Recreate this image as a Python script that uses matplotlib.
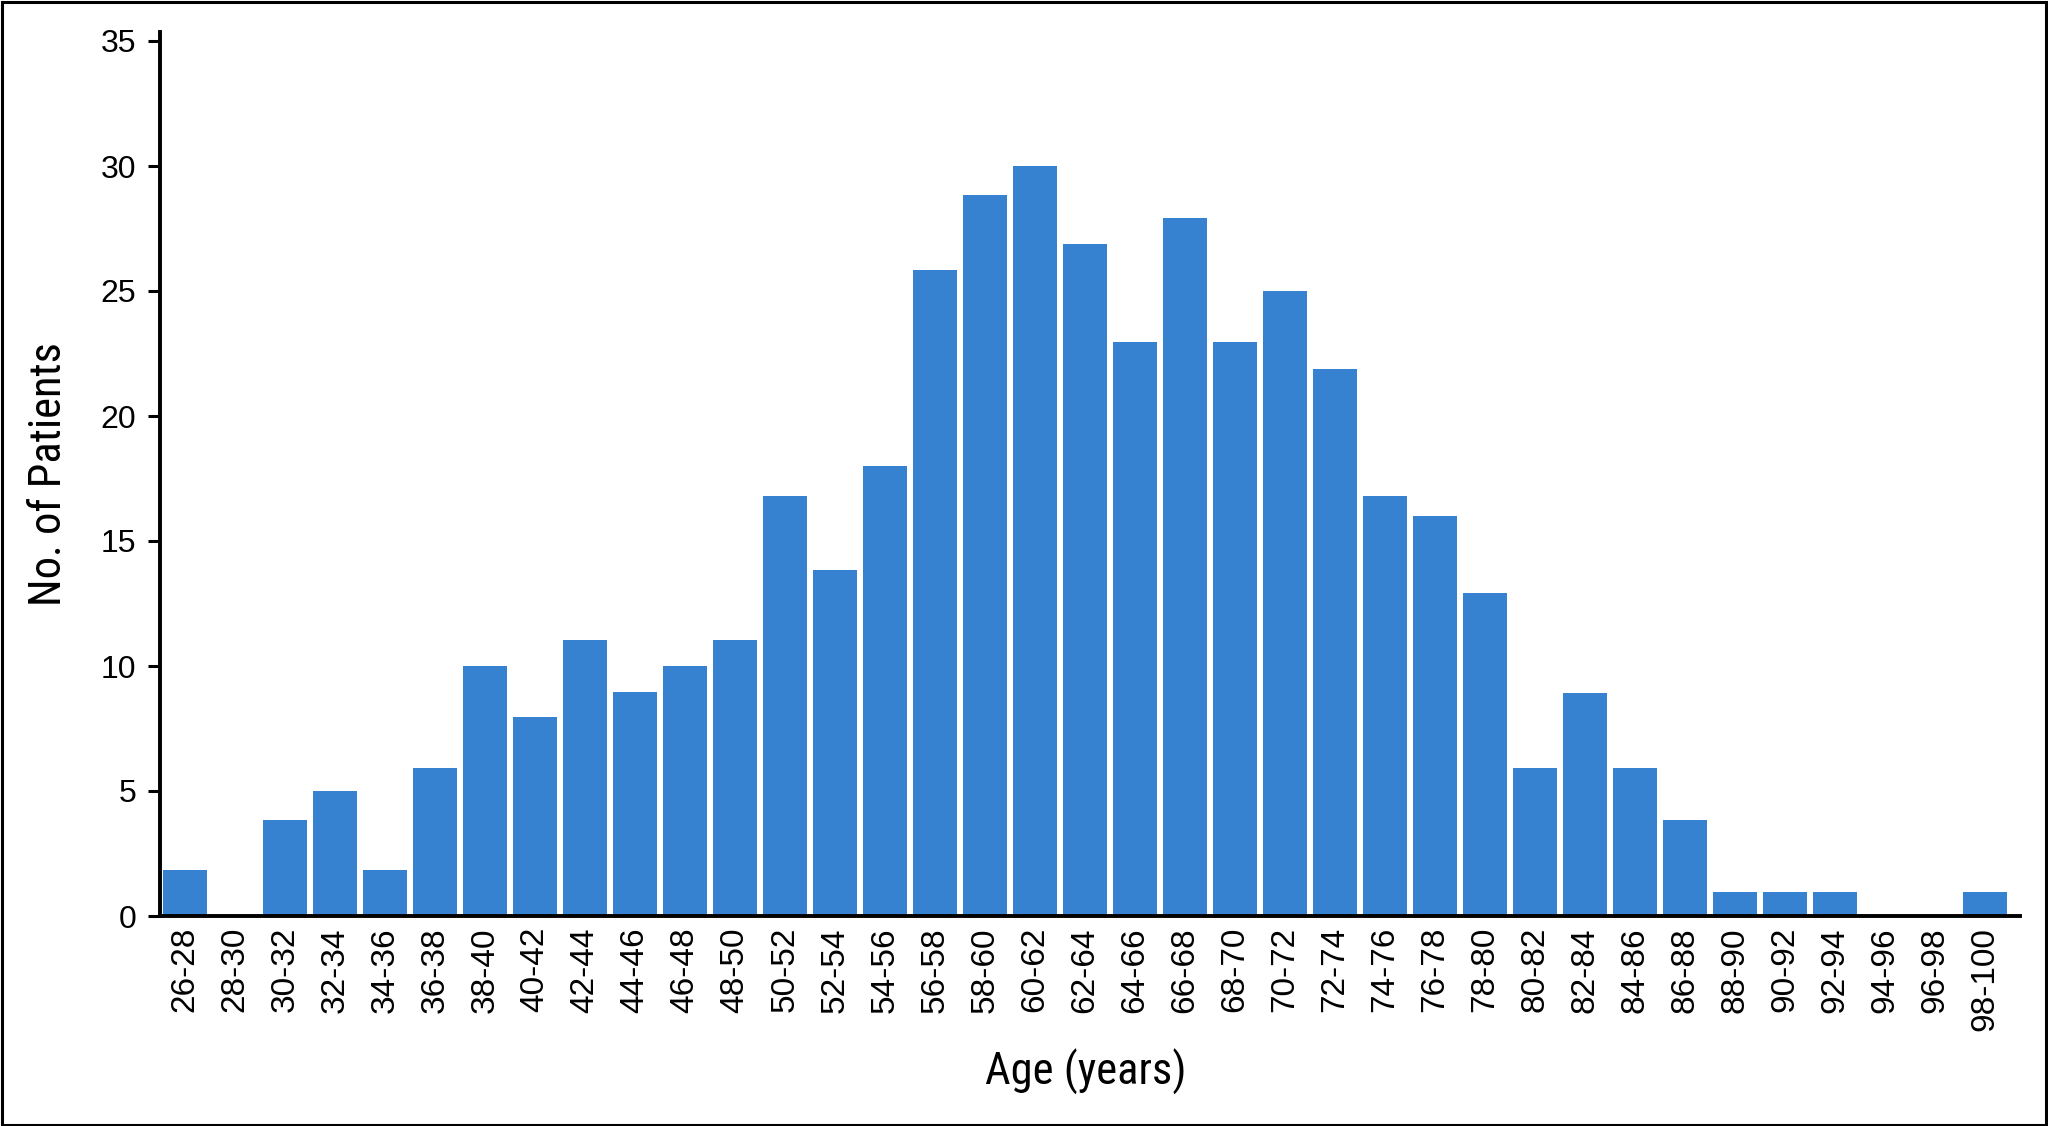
import matplotlib
matplotlib.use("Agg")
import matplotlib.pyplot as plt
from matplotlib.patches import Rectangle
from matplotlib import font_manager as fm

age_groups = ["26-28", "28-30", "30-32", "32-34", "34-36", "36-38", "38-40", "40-42",
              "42-44", "44-46", "46-48", "48-50", "50-52", "52-54", "54-56", "56-58",
              "58-60", "60-62", "62-64", "64-66", "66-68", "68-70", "70-72", "72-74",
              "74-76", "76-78", "78-80", "80-82", "82-84", "84-86", "86-88", "88-90",
              "90-92", "92-94", "94-96", "96-98", "98-100"]
patients = [1.86, 0, 3.83, 5, 1.86, 5.92, 10, 7.96,
            11.05, 8.96, 10, 11.05, 16.8, 13.85, 18, 25.86,
            28.85, 30, 26.87, 22.97, 27.93, 22.97, 25, 21.9,
            16.82, 16, 12.92, 5.92, 8.94, 5.92, 3.83, 0.95,
            0.95, 0.95, 0, 0, 0.95]
y_ticks = [0, 5, 10, 15, 20, 25, 30, 35]

# pick a condensed sans font for the axis titles if one is installed
entries = fm.fontManager.ttflist
names = {f.name for f in entries}
label_font = dict(family="Liberation Sans", fontsize=14.5)
for cand in ["Liberation Sans Narrow", "Arial Narrow", "Roboto Condensed",
             "Open Sans Condensed", "Noto Sans Condensed"]:
    if cand in names:
        label_font = dict(family=cand, fontsize=16)
        break
else:
    for fam in ["Roboto", "Noto Sans", "Open Sans", "DejaVu Sans", "Inter"]:
        if any(f.name == fam and str(f.stretch) in ("condensed", "semi-condensed")
               for f in entries):
            label_font = dict(family=fam, fontstretch="condensed", fontsize=15.5)
            break

W, H, DPI = 2048, 1126, 200
fig = plt.figure(figsize=(W / DPI, H / DPI), dpi=DPI)
ax = fig.add_axes([160 / W, 1 - 916 / H, (2020 - 160) / W, (916 - 32) / H])

x = list(range(len(age_groups)))
ax.bar(x, patients, width=0.88, color="#3782D0", edgecolor="none", zorder=2)

ax.set_xlim(-0.5, 36.7)
ax.set_ylim(0, 35.36)
ax.set_yticks(y_ticks)
ax.set_xticks(x)
ax.set_xticklabels(age_groups, rotation=90, fontsize=12, family="Liberation Sans")
for lbl in ax.get_yticklabels():
    lbl.set_family("Liberation Sans")
    lbl.set_fontsize(11.5)

for s in ["top", "right"]:
    ax.spines[s].set_visible(False)
for s in ["left", "bottom"]:
    ax.spines[s].set_linewidth(1.4)
    ax.spines[s].set_color("black")

ax.tick_params(axis="y", direction="out", length=4.3, width=1.1, pad=4.2, colors="black")
ax.tick_params(axis="x", length=0, pad=4.0, colors="black")

ax.set_ylabel("No. of Patients", va="center", ha="center", **label_font)
ax.yaxis.set_label_coords((49 - 160) / 1860, 0.5)
ax.set_xlabel("Age (years)", va="center", ha="center", **label_font)
ax.xaxis.set_label_coords((1086 - 160) / 1860, -(1072 - 916) / 884)

fig.add_artist(Rectangle((1.5 / W, 1.5 / H), (W - 3.5) / W, (H - 3.5) / H,
                         transform=fig.transFigure, fill=False, edgecolor="black",
                         linewidth=1.1))

fig.savefig("out.png", dpi=DPI)
